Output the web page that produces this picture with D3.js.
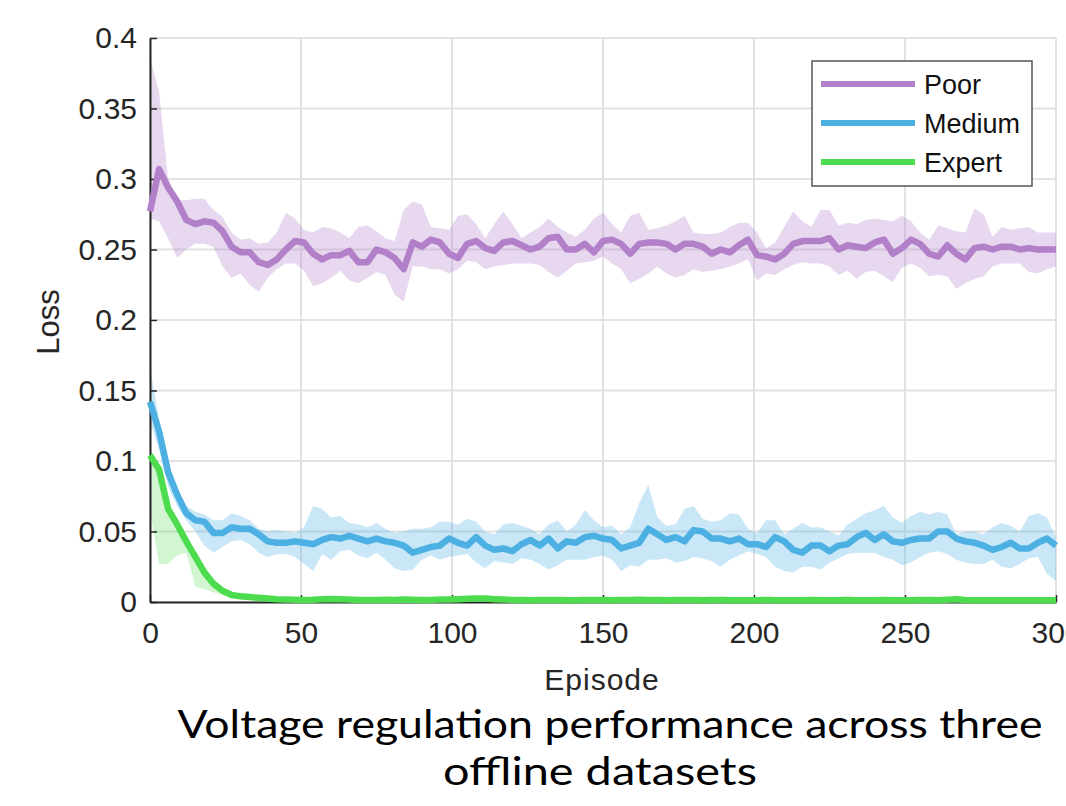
<!DOCTYPE html>
<html><head><meta charset="utf-8">
<script src="https://cdn.jsdelivr.net/npm/d3@7"></script>
<style>body{margin:0;background:#fff;} svg{display:block;}</style>
</head><body>
<svg id="c" width="1066" height="806"></svg>
<script>
// ---------- DATA ----------
const episodes = d3.range(0, 301, 3);
const bandEpisodes = d3.range(0, 61, 3);
const xTicks = [0, 50, 100, 150, 200, 250, 300];
const xTickLabels = ["0", "50", "100", "150", "200", "250", "300"];
const yTicks = [0, 0.05, 0.1, 0.15, 0.2, 0.25, 0.3, 0.35, 0.4];
const yTickLabels = ["0", "0.05", "0.1", "0.15", "0.2", "0.25", "0.3", "0.35", "0.4"];
const seriesNames = ["Poor", "Medium", "Expert"];

const poorMean = [0.277,0.307,0.294,0.284,0.271,0.268,0.270,0.269,0.263,0.252,
 0.248,0.248,0.241,0.239,0.243,0.250,0.256,0.255,0.247,0.243,
 0.246,0.246,0.249,0.241,0.241,0.250,0.248,0.244,0.236,0.255,
 0.252,0.257,0.255,0.247,0.244,0.254,0.256,0.251,0.249,0.255,
 0.256,0.253,0.250,0.252,0.258,0.259,0.250,0.250,0.254,0.248,
 0.256,0.257,0.254,0.247,0.254,0.255,0.255,0.254,0.250,0.254,
 0.254,0.252,0.247,0.250,0.248,0.253,0.257,0.246,0.245,0.243,
 0.247,0.254,0.256,0.256,0.256,0.258,0.250,0.253,0.252,0.251,
 0.255,0.257,0.247,0.251,0.257,0.254,0.247,0.245,0.253,0.247,
 0.243,0.251,0.252,0.250,0.252,0.252,0.250,0.251,0.250,0.250,
 0.250];
const poorUpper = [0.386,0.362,0.300,0.285,0.285,0.286,0.286,0.278,0.273,0.262,
 0.257,0.258,0.254,0.255,0.262,0.276,0.272,0.264,0.262,0.266,
 0.265,0.262,0.258,0.266,0.267,0.263,0.258,0.256,0.278,0.284,
 0.282,0.266,0.265,0.264,0.274,0.275,0.268,0.258,0.268,0.277,
 0.268,0.258,0.262,0.266,0.272,0.266,0.262,0.259,0.264,0.272,
 0.276,0.268,0.262,0.274,0.276,0.264,0.265,0.267,0.270,0.274,
 0.262,0.261,0.261,0.262,0.266,0.269,0.269,0.262,0.251,0.255,
 0.266,0.277,0.270,0.266,0.278,0.278,0.267,0.269,0.268,0.271,
 0.272,0.271,0.270,0.274,0.270,0.262,0.257,0.267,0.265,0.263,
 0.262,0.279,0.275,0.259,0.266,0.264,0.265,0.266,0.262,0.262,
 0.262];
const poorLower = [0.272,0.270,0.258,0.244,0.250,0.254,0.254,0.252,0.238,0.230,
 0.233,0.225,0.220,0.230,0.236,0.240,0.240,0.235,0.224,0.226,
 0.230,0.235,0.228,0.226,0.230,0.234,0.232,0.218,0.213,0.238,
 0.238,0.236,0.236,0.233,0.236,0.242,0.241,0.236,0.238,0.239,
 0.240,0.240,0.240,0.239,0.234,0.230,0.235,0.240,0.241,0.242,
 0.245,0.240,0.236,0.226,0.229,0.233,0.238,0.233,0.230,0.232,
 0.236,0.234,0.235,0.236,0.238,0.240,0.243,0.228,0.233,0.232,
 0.236,0.239,0.241,0.240,0.240,0.238,0.232,0.235,0.229,0.234,
 0.235,0.231,0.227,0.237,0.240,0.237,0.231,0.232,0.231,0.222,
 0.226,0.229,0.231,0.238,0.240,0.240,0.240,0.234,0.233,0.236,
 0.238];

const mediumMean = [0.142,0.121,0.092,0.076,0.063,0.058,0.057,0.049,0.049,0.053,
 0.052,0.052,0.048,0.043,0.042,0.042,0.043,0.042,0.041,0.044,
 0.046,0.045,0.047,0.045,0.043,0.045,0.043,0.042,0.040,0.035,
 0.037,0.039,0.040,0.045,0.042,0.040,0.046,0.040,0.037,0.038,
 0.036,0.041,0.044,0.040,0.045,0.038,0.043,0.042,0.046,0.047,
 0.045,0.044,0.038,0.040,0.042,0.052,0.048,0.044,0.046,0.043,
 0.051,0.050,0.045,0.045,0.043,0.045,0.041,0.041,0.039,0.046,
 0.043,0.037,0.035,0.040,0.040,0.036,0.040,0.041,0.046,0.049,
 0.044,0.048,0.043,0.042,0.044,0.045,0.045,0.050,0.050,0.045,
 0.043,0.042,0.040,0.037,0.039,0.042,0.038,0.038,0.042,0.045,
 0.040];
const mediumUpper = [0.167,0.130,0.096,0.080,0.068,0.064,0.062,0.058,0.058,0.063,
 0.061,0.058,0.052,0.050,0.051,0.050,0.049,0.053,0.068,0.066,
 0.060,0.061,0.056,0.055,0.053,0.056,0.052,0.049,0.050,0.052,
 0.052,0.053,0.057,0.057,0.055,0.059,0.057,0.050,0.048,0.055,
 0.056,0.054,0.052,0.048,0.055,0.058,0.050,0.055,0.065,0.058,
 0.053,0.054,0.048,0.053,0.070,0.083,0.060,0.054,0.055,0.066,
 0.068,0.059,0.057,0.058,0.063,0.062,0.052,0.049,0.058,0.058,
 0.048,0.052,0.056,0.053,0.053,0.050,0.047,0.055,0.059,0.063,
 0.065,0.068,0.060,0.056,0.061,0.064,0.062,0.064,0.062,0.048,
 0.050,0.050,0.048,0.053,0.056,0.054,0.050,0.061,0.063,0.060,
 0.046];
const mediumLower = [0.128,0.108,0.082,0.068,0.058,0.050,0.040,0.035,0.039,0.043,
 0.044,0.041,0.035,0.032,0.034,0.034,0.032,0.027,0.022,0.034,
 0.030,0.036,0.037,0.033,0.031,0.035,0.030,0.024,0.022,0.023,
 0.030,0.033,0.030,0.032,0.033,0.034,0.028,0.024,0.029,0.028,
 0.027,0.031,0.030,0.027,0.023,0.026,0.030,0.030,0.030,0.032,
 0.033,0.030,0.022,0.026,0.025,0.030,0.030,0.031,0.028,0.029,
 0.032,0.031,0.029,0.025,0.030,0.033,0.036,0.034,0.032,0.025,
 0.022,0.021,0.025,0.025,0.023,0.028,0.031,0.034,0.035,0.035,
 0.035,0.032,0.030,0.026,0.028,0.032,0.035,0.036,0.034,0.030,
 0.028,0.027,0.027,0.030,0.025,0.024,0.027,0.031,0.032,0.020,
 0.015];

const expertMean = [0.104,0.094,0.066,0.055,0.043,0.032,0.021,0.013,0.008,0.005,
 0.004,0.0035,0.003,0.0025,0.002,0.0018,0.0016,0.0015,0.0016,0.002,
 0.0022,0.002,0.0018,0.0015,0.0014,0.0015,0.0016,0.0015,0.0017,0.0016,
 0.0014,0.0015,0.0017,0.0018,0.002,0.0023,0.0025,0.0024,0.002,0.0017,
 0.0015,0.0014,0.0013,0.0014,0.0015,0.0014,0.0013,0.0013,0.0014,0.0015,
 0.0014,0.0013,0.0014,0.0015,0.0016,0.0015,0.0014,0.0013,0.0014,0.0015,
 0.0014,0.0013,0.0014,0.0014,0.0013,0.0013,0.0012,0.0013,0.0014,0.0013,
 0.0013,0.0012,0.0013,0.0014,0.0013,0.0012,0.0013,0.0014,0.0013,0.0012,
 0.0013,0.0014,0.0013,0.0012,0.0013,0.0014,0.0015,0.0013,0.0016,0.0019,
 0.0015,0.0013,0.0012,0.0013,0.0012,0.0012,0.0013,0.0012,0.0012,0.0012,
 0.0012];
const expertUpper = [0.108,0.097,0.069,0.058,0.046,0.035,0.023,0.015,0.009,0.006,
 0.005,0.0045,0.004,0.0035,0.003,0.0028,0.0026,0.0025,0.0026,0.003,
 0.003];
const expertLower = [0.065,0.027,0.027,0.033,0.035,0.011,0.009,0.007,0.005,0.003,
 0.002,0.0015,0.001,0.001,0.001,0.0008,0.0008,0.0008,0.0008,0.001,
 0.001];

const colors = ["#b27fc9", "#4db0e3", "#4ddc4d"];

// ---------- CHART ----------
const svg = d3.select("#c");
const x = d3.scaleLinear().domain([0, 300]).range([150, 1056]);
const y = d3.scaleLinear().domain([0, 0.4]).range([602, 38]);
const font = "'Liberation Sans', Arial, Helvetica, sans-serif";
const ink = "#262626";

// grid
const grid = svg.append("g").attr("stroke", "#e2e2e2").attr("stroke-width", 2);
grid.selectAll("line.v").data(xTicks).join("line").attr("class", "v")
  .attr("x1", d => x(d)).attr("x2", d => x(d)).attr("y1", y(0.4)).attr("y2", y(0));
grid.selectAll("line.h").data(yTicks).join("line").attr("class", "h")
  .attr("y1", d => y(d)).attr("y2", d => y(d)).attr("x1", x(0)).attr("x2", x(300));

// bands
const series = [
  {name: seriesNames[0], xs: episodes, mean: poorMean, bx: episodes, up: poorUpper, lo: poorLower, c: colors[0], op: 0.3},
  {name: seriesNames[1], xs: episodes, mean: mediumMean, bx: episodes, up: mediumUpper, lo: mediumLower, c: colors[1], op: 0.3},
  {name: seriesNames[2], xs: episodes, mean: expertMean, bx: bandEpisodes, up: expertUpper, lo: expertLower, c: colors[2], op: 0.25}
];
series.forEach(s => {
  const area = d3.area().x((d, i) => x(s.bx[i])).y0((d, i) => y(s.lo[i])).y1((d, i) => y(s.up[i]));
  svg.append("path").datum(s.up).attr("d", area).attr("fill", s.c).attr("fill-opacity", s.op);
});

// axes
const yAxis = d3.axisLeft(y).tickValues(yTicks).tickFormat((d, i) => yTickLabels[i])
  .tickSizeInner(-7).tickSizeOuter(0).tickPadding(13);
const gy = svg.append("g").attr("transform", `translate(${x(0)},0)`).call(yAxis);
const xAxis = d3.axisBottom(x).tickValues(xTicks).tickFormat((d, i) => xTickLabels[i])
  .tickSizeInner(-7).tickSizeOuter(0).tickPadding(20);
const gx = svg.append("g").attr("transform", `translate(0,${y(0)})`).call(xAxis);
[gx, gy].forEach(g => {
  g.select(".domain").attr("stroke", ink).attr("stroke-width", 2);
  g.selectAll(".tick line").attr("stroke", ink).attr("stroke-width", 1.5);
  g.selectAll(".tick text").attr("fill", ink).style("font-family", font).style("font-size", "30px");
});

// lines
series.forEach(s => {
  const line = d3.line().x((d, i) => x(s.xs[i])).y(d => y(d));
  svg.append("path").datum(s.mean).attr("d", line).attr("fill", "none")
    .attr("stroke", s.c).attr("stroke-width", 6.5).attr("stroke-linejoin", "round");
});

// axis titles
svg.append("text").attr("transform", "translate(59,322) rotate(-90)").attr("text-anchor", "middle")
  .style("font-family", font).style("font-size", "31px").attr("fill", ink).text("Loss");
svg.append("text").attr("x", 602).attr("y", 690).attr("text-anchor", "middle")
  .style("font-family", font).style("font-size", "30px").style("letter-spacing", "1px").attr("fill", ink).text("Episode");

// legend
const lg = svg.append("g");
lg.append("rect").attr("x", 812).attr("y", 61).attr("width", 220).attr("height", 125)
  .attr("fill", "#fff").attr("stroke", "#555").attr("stroke-width", 1.5);
series.forEach((s, i) => {
  const yy = 84 + i * 39;
  lg.append("line").attr("x1", 821).attr("x2", 915).attr("y1", yy).attr("y2", yy)
    .attr("stroke", s.c).attr("stroke-width", 6);
  lg.append("text").attr("x", 924).attr("y", yy).attr("dy", "0.36em")
    .style("font-family", font).style("font-size", "27px").attr("fill", "#111").text(s.name);
});

// caption
const cap = svg.append("g").style("font-family", "Lato, 'Open Sans', sans-serif").style("font-size", "38px").attr("fill", "#000");
cap.append("text").attr("x", 610).attr("y", 738).attr("text-anchor", "middle")
  .attr("textLength", 865).attr("lengthAdjust", "spacingAndGlyphs").text("Voltage regulation performance across three");
cap.append("text").attr("x", 600).attr("y", 785).attr("text-anchor", "middle")
  .attr("textLength", 314).attr("lengthAdjust", "spacingAndGlyphs").text("offline datasets");
</script>
</body></html>
